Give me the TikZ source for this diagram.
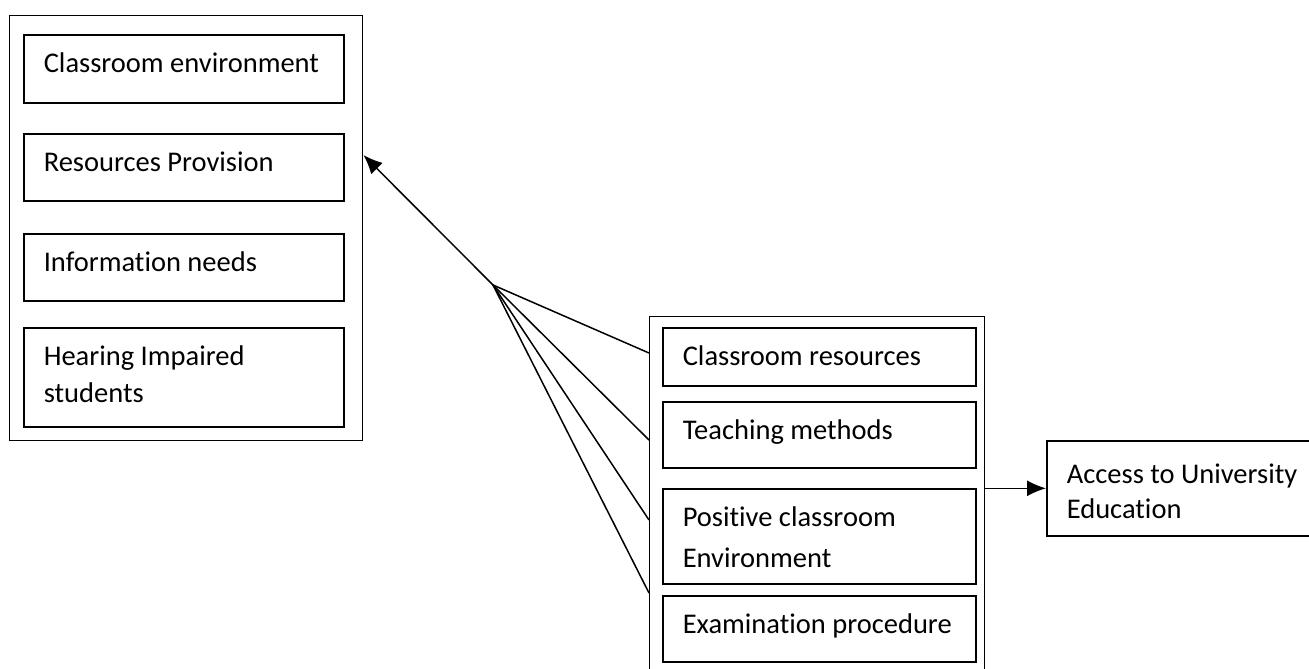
\documentclass[tikz,border=0pt]{standalone}
\usepackage{fontspec}
\setmainfont{Carlito}[Ligatures=NoCommon]
\usepackage{tikz}
\usetikzlibrary{arrows.meta}
\usetikzlibrary{calc}

\newcommand{\boxtxt}[4][12]{\parbox[c][#3pt][t]{#2pt}{\leftskip=20pt\rightskip=0pt plus 1fil\parindent=0pt\vspace*{#1pt}\strut #4}}

\tikzset{
  grp/.style={draw, line width=1.4pt, anchor=north west, inner sep=0pt},
  item/.style={draw, line width=1.6pt, anchor=north west, inner sep=0pt,
    font=\fontsize{28.5}{37}\selectfont},
  link/.style={line width=1.5pt}
}

\begin{document}
\begin{tikzpicture}[x=1pt,y=-1pt]
\useasboundingbox (0,0) rectangle (1309,669);

\node[grp, minimum width=353pt, minimum height=425pt] (leftgrp) at (9,15) {};
\node[item] (env) at (23,34) {\boxtxt{320}{68}{Classroom environment}};
\node[item] (prov) at (23,133) {\boxtxt{320}{67}{Resources Provision}};
\node[item] (info) at (23,233) {\boxtxt{320}{67}{Information needs}};
\node[item] (hear) at (23,327) {\boxtxt{320}{99}{Hearing Impaired\\students}};

\node[grp, minimum width=335pt, minimum height=364pt] (midgrp) at (649,316) {};
\node[item] (res) at (662,327) {\boxtxt{313}{58}{Classroom resources}};
\node[item] (teach) at (662,401) {\boxtxt{313}{66}{Teaching methods}};
\node[item] (pos) at (662,488) {\boxtxt{313}{95}{\baselineskip=41pt Positive classroom\\Environment}};
\node[item] (exam) at (662,595) {\boxtxt{313}{66}{Examination procedure}};

\node[item] (acc) at (1046,440) {\boxtxt[17]{274}{95}{\baselineskip=35pt Access to University\\Education}};

\coordinate (hub) at (493,285);
\foreach \dy in {37,124,204,277}{
  \draw[link] (hub) -- ($(midgrp.north west)+(0,\dy)$);
}
\draw[link,-{Latex[length=19pt,width=16pt]}] (hub) -- ($(leftgrp.north east)+(0,140)$);
\draw[link,-{Latex[length=19pt,width=16pt]}] (midgrp.east |- acc.west) -- (acc.west);
\end{tikzpicture}
\end{document}
